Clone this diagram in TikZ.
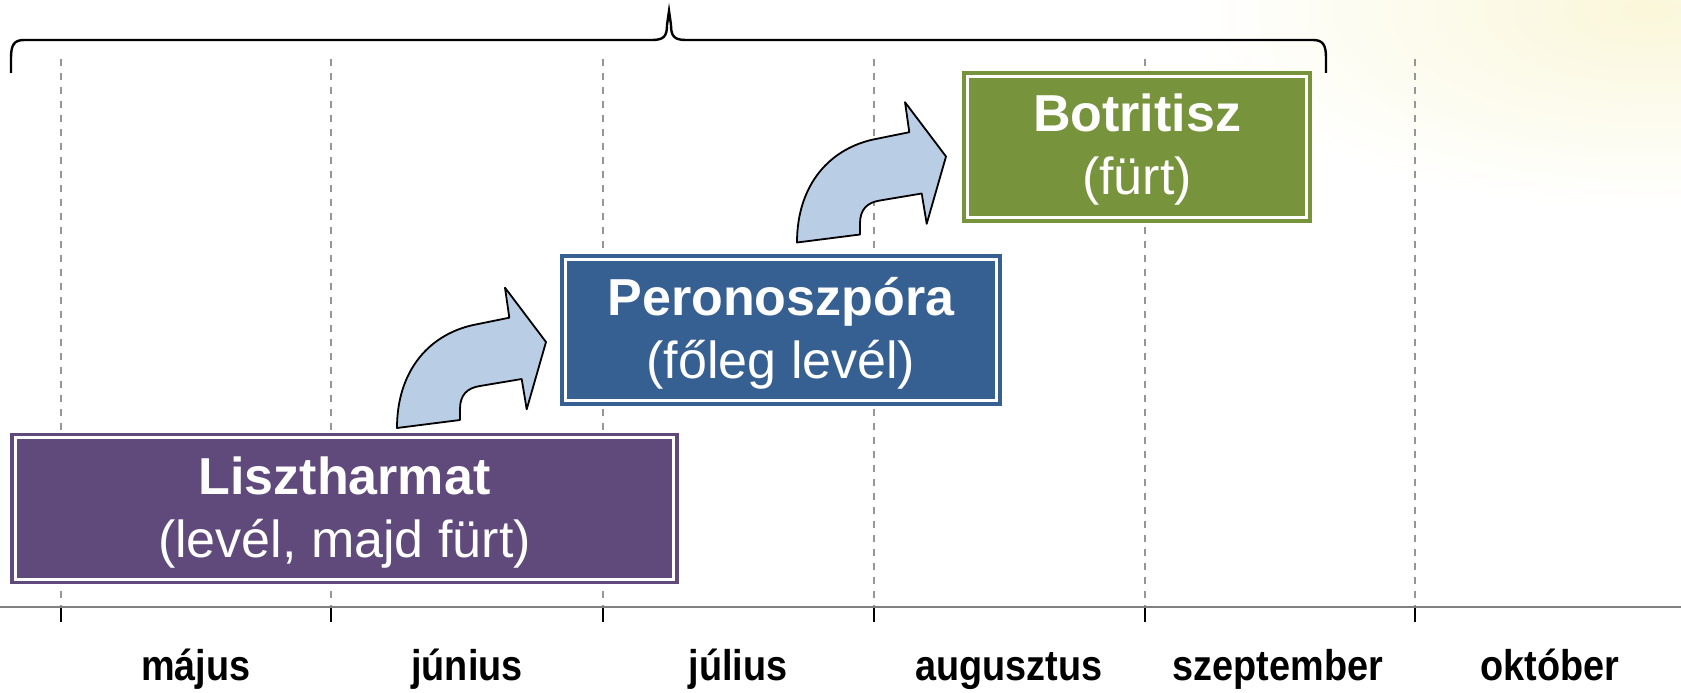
\documentclass[tikz,border=0pt]{standalone}
\usepackage{fontspec}
\setmainfont{Liberation Sans}
\newfontfamily\monthfont[FakeStretch=0.88]{Liberation Sans}
\definecolor{lpurple}{HTML}{604A7B}
\definecolor{lblue}{HTML}{376092}
\definecolor{lgreen}{HTML}{77933C}
\definecolor{arrfill}{HTML}{B9CDE5}
\definecolor{glow}{HTML}{FAF7DA}
\begin{document}
\begin{tikzpicture}[x=1pt,y=-1pt,
  box/.style={rectangle, draw=#1, fill=#1, line width=1.5pt,
    inner sep=0pt, minimum height=150pt},
  boxtext/.style={text=white, align=center, inner sep=0pt,
    font={\fontsize{52}{63}\selectfont}},
  gridline/.style={draw={rgb,255:red,150;green,150;blue,150}, line width=1.6pt, dash pattern=on 7pt off 7pt},
  monthlabel/.style={font={\monthfont\bfseries\fontsize{43}{48}\selectfont}, inner sep=0pt, anchor=base},
  arrowshape/.style={draw=black, fill=arrfill, line width=1.8pt, line join=round},
  pics/bentarr/.style={code={
    \path[arrowshape] (0,0) -- (63,-8) -- (63,-19)
      .. controls (63,-33) and (70,-40) .. (83,-42)
      -- (124.7,-49) -- (129.7,-18.7) -- (149,-86) -- (108,-140.3)
      -- (112.3,-110.3) -- (79.7,-103.7)
      .. controls (33,-95) and (0,-58) .. (0,0) -- cycle;
  }}
]
\useasboundingbox (0,0) rectangle (1681,693);
\begin{scope}
  \clip (0,0) rectangle (1681,693);
  \shade[inner color=glow, outer color=white, draw=none] (1190,-190) rectangle (2110,210);
\end{scope}
% grid lines
\foreach \x in {61,331,603,874,1145,1415}{
  \coordinate (t\x) at (\x,59);
  \coordinate (b\x) at (\x,607);
  \coordinate (k\x) at (\x,622);
  \draw[gridline] (t\x) -- (b\x);
  \draw[black, line width=1.4pt] (b\x) -- (k\x);
}
% axis
\coordinate (axl) at (0,607);
\coordinate (axr) at (1681,607);
\draw[draw={rgb,255:red,128;green,128;blue,128}, line width=2pt] (axl) -- (axr);
% months
\node[monthlabel] (m1) at (196,680) {május};
\node[monthlabel] (m2) at (467,680) {június};
\node[monthlabel] (m3) at (738,680) {július};
\node[monthlabel] (m4) at (1009,680) {augusztus};
\node[monthlabel] (m5) at (1278,680) {szeptember};
\node[monthlabel] (m6) at (1550,680) {október};
% brace
\coordinate (bl) at (11,73);
\coordinate (br) at (1326,73);
\coordinate (btip) at (669,11);
\draw[black, line width=2.4pt]
  (bl) -- (11,58) .. controls (11,45) and (14,40) .. (24,40)
  -- (652,40) .. controls (664,40) and (667,36) .. (667,25)
  -- (btip) -- (671,25) .. controls (671,36) and (674,40) .. (686,40)
  -- (1313,40) .. controls (1323,40) and (1326,45) .. (1326,58) -- (br);
% boxes
\node[box=lpurple, minimum width=667pt] (liszt) at (344.5,508.5) {};
\node[box=lblue, minimum width=440pt] (perono) at (781,330) {};
\node[box=lgreen, minimum width=348pt] (botr) at (1137,147) {};
\foreach \b in {liszt,perono,botr}{
  \draw[white, line width=3pt] ([xshift=5pt,yshift=-5pt]\b.north west)
    rectangle ([xshift=-5pt,yshift=5pt]\b.south east);
}
\node[boxtext] (lisztT) at ([yshift=-4pt]liszt.center) {\textbf{Lisztharmat}\\(levél, majd fürt)};
\node[boxtext] (peronoT) at ([yshift=-3pt]perono.center) {\textbf{Peronoszpóra}\\(főleg levél)};
\node[boxtext] (botrT) at ([yshift=-3pt]botr.center) {\textbf{Botritisz}\\(fürt)};
% bent arrows
\pic at (397,428) {bentarr};
\pic at (797,242.5) {bentarr};
\end{tikzpicture}
\end{document}
